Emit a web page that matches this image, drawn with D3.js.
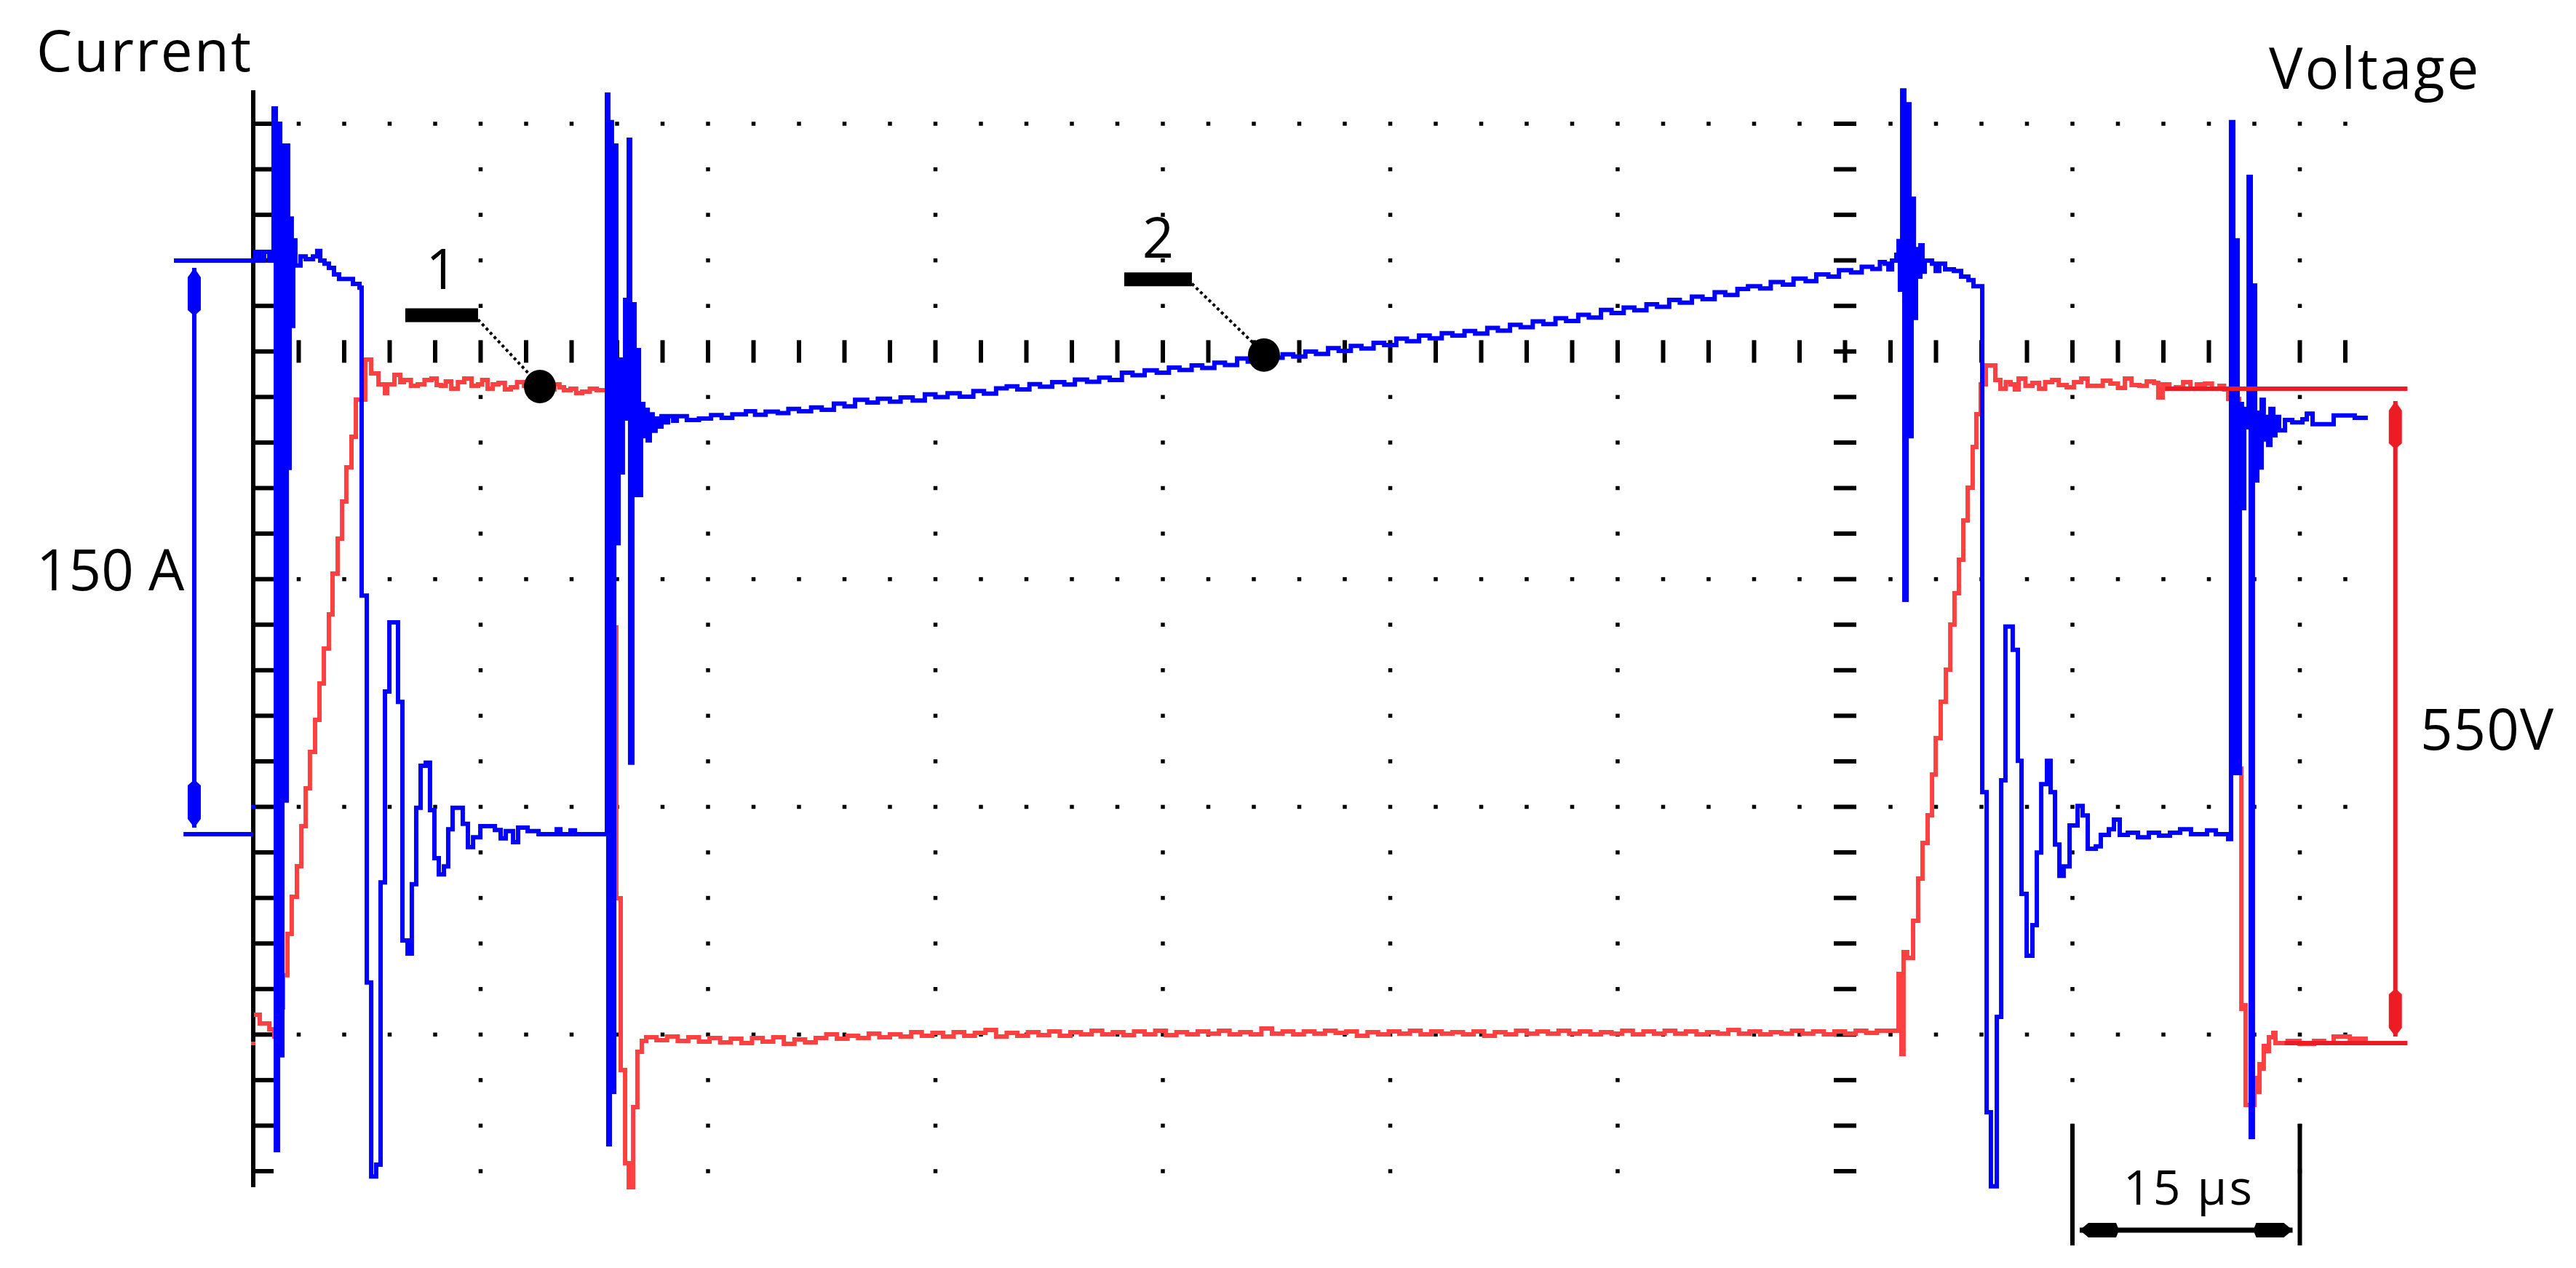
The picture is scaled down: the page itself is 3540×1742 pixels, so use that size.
<!DOCTYPE html>
<html><head><meta charset="utf-8">
<script src="https://cdn.jsdelivr.net/npm/d3@7"></script>
<style>html,body{margin:0;padding:0;background:#fff;} svg{display:block}</style>
</head><body><svg id="c" width="3540" height="1742"></svg>
<script>
// ---------- DATA (time in µs, current in A, voltage in V) ----------
const currentPoints = [
[0,150.0],[0.14,152.3],[0.43,150.0],[0.72,152.3],[1.06,150.0],
[1.34,189.8],[1.49,-82.6],[1.63,185.8],[1.78,-57.8],[1.92,180.1],[2.06,8.8],[2.21,180.1],[2.30,95.8],[2.40,161.0],[2.54,132.9],[2.64,155.3],[2.78,148.7],
[3.12,151.1],[3.46,150.4],[3.94,151.1],[4.22,152.5],[4.42,150.0],[4.70,149.2],[4.99,148.1],[5.33,146.4],[5.66,145.2],[6.58,143.9],[7.01,142.9],
[7.15,62.4],[7.49,-38.8],[7.78,-89.5],[8.11,-86.4],[8.40,-12.6],[8.69,37.3],[8.98,55.4],[9.55,34.6],[9.84,-27.8],[10.18,-31.2],[10.46,-13.1],[10.75,6.9],
[11.04,17.9],[11.38,18.7],[11.66,6.3],[11.95,-6.3],[12.24,-10.5],[12.58,-8.4],[12.86,1.3],[13.15,6.9],[13.82,2.7],[14.16,-3.4],[14.50,-0.8],[14.98,2.1],
[15.94,1.1],[16.32,-1.1],[16.66,0.8],[17.14,-2.1],[17.47,1.7],[18.10,0.8],[18.82,0],[20.02,1.3],[20.26,0],[20.93,1.0],[21.22,0],
[23.33,193.4],[23.42,-81.1],[23.52,186.2],[23.66,-67.4],[23.81,180.1],[23.95,76.1],[24.10,124.1],[24.24,94.6],[24.38,123.0],[24.53,139.7],[24.62,108.7],
[24.77,181.6],[24.86,18.7],[25.01,138.6],[25.15,88.7],[25.30,126.6],[25.44,88.7],[25.58,112.5],[25.73,104.1],[25.87,111.0],[26.02,103.0],[26.16,109.8],
[26.35,105.5],[26.54,108.7],[26.74,106.6],[26.93,109.3],[27.12,107.7],[27.36,109.3],[27.70,108.1],[27.94,109.3],
[28.6,108.3],[29.4,108.7],[30.2,109.6],[30.9,108.9],[31.6,109.8],[32.5,110.6],[33.1,109.7],[33.8,110.5],[34.6,110.1],[35.3,111.2],[36.0,110.6],[36.8,111.6],
[37.5,111.0],[38.3,112.6],[39.0,111.9],[39.7,113.6],[40.5,112.9],[41.2,113.9],[42.0,113.1],[42.7,114.2],[43.5,113.4],[44.3,115.0],[45.0,114.3],[45.8,115.3],
[46.6,114.4],[47.5,115.9],[48.2,115.2],[49.0,116.6],[49.7,117.1],[50.4,116.3],[51.2,117.7],[51.9,117.0],[52.7,118.2],[53.5,117.6],[54.2,118.9],[55.0,118.3],
[55.8,119.4],[56.5,118.8],[57.3,120.7],[58.0,120.0],[58.8,121.3],[59.6,120.7],[60.4,122.0],[61.1,121.4],[61.9,122.6],[62.6,121.9],[63.4,123.3],[64.1,122.7],
[64.9,124.4],[65.6,123.6],[66.4,125.1],[67.1,124.6],[67.9,125.5],[68.6,124.9],[69.4,126.2],[70.1,125.6],[70.9,127.1],[71.6,126.4],[72.4,127.7],[73.1,127.0],
[73.9,128.5],[74.6,127.9],[75.4,129.6],[76.1,128.9],[76.9,130.4],[77.6,129.7],[78.4,131.0],[79.1,130.4],[79.9,131.6],[80.6,130.9],[81.4,132.4],[82.1,131.7],
[82.9,133.2],[83.6,132.6],[84.4,134.1],[85.1,133.4],[85.9,134.9],[86.6,134.2],[87.4,135.8],[88.1,135.1],[88.9,137.1],[89.6,136.3],[90.4,137.7],[91.1,137.0],
[91.9,138.6],[92.6,137.9],[93.4,139.7],[94.1,139.0],[94.9,140.6],[95.6,139.9],[96.4,141.7],[97.1,141.0],[97.9,142.6],[98.6,143.3],[99.4,142.7],[100.1,144.4],
[100.9,143.7],[101.6,145.3],[102.4,144.6],[103.1,146.4],[103.9,145.8],[104.6,147.5],[105.4,146.9],[106.1,148.4],[106.8,147.8],[107.3,149.6],
[107.62,149.2],[107.86,147.7],[108.10,150.0],[108.38,151.5],
[108.53,155.1],[108.62,142.4],[108.77,194.5],[108.91,61.3],[109.06,190.9],[109.25,104.1],[109.39,166.2],[109.54,135.0],[109.68,153.0],[109.82,145.8],
[109.97,154.0],[110.11,147.1],[110.26,150.0],[110.74,149.2],[110.98,147.3],[111.22,149.2],[111.60,147.7],[112.18,147.3],[112.66,145.8],[113.14,144.9],[113.47,143.3],
[114.05,11.0],[114.34,-72.7],[114.62,-92.1],[115.01,-47.8],[115.30,14.1],[115.58,54.3],[116.06,48.2],[116.40,19.2],[116.64,-15.6],[116.98,-31.8],[117.36,-23.8],
[117.65,-4.8],[117.94,13.1],[118.32,19.2],[118.56,11.0],[118.85,-2.7],[119.14,-10.9],[119.42,-8.4],[119.81,2.3],[120.34,7.4],[120.67,4.9],[121.01,-3.8],
[121.54,-3.2],[121.87,-0.2],[122.40,1.3],[122.74,3.8],[123.12,-0.2],[123.65,0.4],[124.32,-0.8],[125.04,0.4],[125.71,-0.4],[126.43,0.4],[127.10,1.3],
[127.82,0],[128.88,1.0],[129.46,0],[130.27,-1.3],
[130.46,186.2],[130.61,16.0],[130.75,155.3],[130.90,16.0],[131.04,112.5],[131.18,85.3],[131.33,111.2],[131.47,106.4],[131.62,171.9],[131.76,-79.2],
[131.90,143.5],[132.05,92.5],[132.19,110.2],[132.34,95.9],[132.48,113.6],[132.62,103.2],[132.77,109.1],[132.91,101.8],[133.06,111.2],[133.25,104.3],
[133.39,109.1],[133.63,105.6],[134.02,108.3],[134.50,107.7],[135.17,108.5],[135.46,110.0],[135.84,107.2],[137.23,109.5],[138.62,108.9],[139.34,108.9]
];
const voltagePoints = [
[0.19,23.9],[0.43,16.5],[1.06,11.6],[1.39,5.5],[1.68,30.0],[1.97,57.0],[2.26,91.8],[2.54,123.0],[2.88,148.7],[3.17,182.3],[3.46,214.1],[3.74,244.7],
[4.08,271.6],[4.37,302.2],[4.66,331.6],[4.99,360.3],[5.23,394.6],[5.57,424.0],[5.86,455.2],[6.14,483.9],[6.48,509.6],[6.77,540.8],[7.39,574.5],
[7.78,562.9],[8.26,553.7],[8.69,546.3],[8.83,553.7],[9.31,561.6],[9.7,555.5],[9.94,557.3],[10.4,552.5],[10.85,553.7],[11.3,557.3],[11.76,558.6],
[12.1,553.1],[12.38,552.5],[12.7,556.1],[13.06,550.0],[13.5,555.5],[13.92,558.6],[14.4,552.5],[14.83,553.7],[15.1,557.3],[15.46,550.0],[15.8,553.7],
[16.18,554.9],[16.6,549.4],[16.99,551.2],[17.4,555.5],[17.86,552.5],[18.3,548.8],[18.91,551.8],[19.4,549.4],[19.87,553.7],[20.2,551.2],[20.50,548.8],
[20.93,550.0],[21.3,546.4],[21.70,547.6],[22.2,550.0],[22.66,548.8],
[23.81,349.3],[23.95,121.7],[24.24,-22.6],[24.53,-100.9],[24.77,-121.1],[25.06,-53.8],[25.34,-7.3],[25.63,1.8],[25.92,4.9],
[26.6,2.4],[27.3,5.5],[28.0,1.8],[28.7,4.9],[29.4,1.2],[30.1,4.3],[30.8,0.6],[31.5,3.7],[32.2,0],[32.9,4.3],[33.6,1.2],[34.3,4.9],[35.0,-0.6],[35.7,3.1],
[36.4,0.6],[37.1,4.3],[37.8,7.3],[38.5,3.7],[39.2,6.1],[39.9,4.3],[40.6,8.0],[41.3,4.9],[42.0,7.3],[42.7,5.5],[43.4,9.2],[44.1,6.1],[44.8,8.6],[45.5,5.5],
[46.2,9.2],[46.9,6.1],[47.6,8.6],[48.3,11.0],[49.0,5.5],[49.7,8.6],[50.4,6.1],[51.1,9.2],[51.8,6.7],[52.5,9.8],[53.2,6.1],[53.9,9.2],[54.6,7.3],[55.3,10.4],
[56.0,7.3],[56.7,9.2],[57.4,6.7],[58.1,9.8],[58.8,7.3],[59.5,10.4],[60.2,6.7],[60.9,9.2],[61.6,7.3],[62.3,9.8],[63.0,7.9],[63.7,10.4],[64.4,7.3],[65.1,9.2],
[65.8,7.3],[66.5,12.2],[67.2,8.0],[67.9,9.8],[68.6,7.3],[69.3,9.8],[70.0,8.0],[70.7,10.4],[71.4,8.6],[72.1,9.8],[72.8,6.1],[73.5,9.2],[74.2,7.3],[74.9,9.8],
[75.6,7.9],[76.3,10.4],[77.0,7.3],[77.7,9.8],[78.4,8.0],[79.1,9.2],[79.8,7.3],[80.5,9.8],[81.2,6.1],[81.9,9.2],[82.6,7.3],[83.3,10.4],[84.0,7.9],[84.7,9.8],
[85.4,8.0],[86.1,10.4],[86.8,8.0],[87.5,9.8],[88.2,7.3],[88.9,9.2],[89.6,7.9],[90.3,10.4],[91.0,7.3],[91.7,9.8],[92.4,8.0],[93.1,10.4],[93.8,8.0],[94.5,9.8],
[95.2,7.3],[95.9,9.2],[96.6,8.0],[97.3,11.0],[98.0,8.0],[98.7,9.8],[99.4,7.3],[100.1,9.2],[100.8,7.9],[101.5,10.4],[102.2,8.0],[102.9,9.8],[103.6,7.3],
[104.3,9.8],[105.0,8.0],[105.7,10.4],[106.4,8.6],[107.1,10.4],[107.62,10.4],
[108.53,58.1],[108.72,-9.2],[108.86,76.5],[109.10,71.6],[109.49,102.8],[109.82,138.3],[110.11,168.2],[110.45,191.5],[110.74,225.8],[110.98,256.3],
[111.31,286.9],[111.65,313.9],[111.94,351.8],[112.22,378.1],[112.51,406.2],[112.80,439.3],[113.09,466.8],[113.42,501.1],[113.66,528.6],[113.95,553.7],
[114.29,569.6],[114.91,557.3],[115.25,550.0],[115.6,555.5],[115.92,553.7],[116.2,549.4],[116.45,558.6],[116.9,552.5],[117.36,554.9],[117.8,550.0],
[118.2,555.5],[118.66,557.3],[119.1,553.1],[119.62,551.2],[120.1,555.5],[120.58,558.6],[121.0,552.5],[121.54,552.5],[122.0,556.7],[122.50,554.3],
[123.0,550.6],[123.46,558.6],[123.9,553.1],[124.42,552.5],[124.9,556.1],[125.38,554.9],[125.66,542.7],[125.95,553.7],[126.4,550.0],[126.82,551.2],
[127.3,555.5],[127.78,550.0],[128.2,553.7],[128.74,554.3],[129.2,550.0],[129.70,552.5],[130.0,549.4],[130.27,541.4],
[131.0,230.6],[131.14,28.8],[131.28,31.8],[131.42,-52.0],[132.0,-29.4],[132.19,-41.0],[132.34,-17.7],[132.48,-21.4],[132.62,-2.4],
[132.77,-6.7],[132.96,4.9],[133.25,8.6],[133.39,0],[134.2,1.8],[134.98,-0.6],[135.94,1.8],[136.6,0],[137.23,5.5],[138.3,3.7],[139.34,3.1]
];
const axisTitles = ["Current", "Voltage"];
const scaleLabels = ["150 A", "550V", "15 µs"];
const currentSpan = [0, 150];      // A, marker on the left
const voltageSpan = [0, 550];      // V, marker on the right
const timeSpan = [120, 135];       // µs, 15 µs marker
const annotations = [
  {label: "1", t: 18.91, v: 551.8, series: "voltage"},
  {label: "2", t: 66.67, v: 125.3, series: "current"}
];
const minorTimes = d3.range(3, 139, 3);          // µs, minor divisions
const majorTimes = [15, 30, 45, 60, 75, 90, 120, 135];
const axisTime = 105;
const divRows = d3.range(0, 24);
const dottedRows = [0, 10, 15, 20];
const axisRow = 5;

// ---------- SCALES ----------
const svg = d3.select('#c');
svg.append('rect').attr('width', 3540).attr('height', 1742).attr('fill', '#fff');
const x = d3.scaleLinear().domain([0, 15]).range([348, 660.5]);
const yI = d3.scaleLinear().domain([0, 150]).range([1146, 358]);
const yV = d3.scaleLinear().domain([0, 550]).range([1433, 534]);
const gy = d3.scaleLinear().domain([0, 23]).range([170, 1609]);
const BLUE = '#0000ff', RED = '#ff4040', MRED = '#ed1c24';

// ---------- GRID ----------
const g = svg.append('g').attr('fill', '#000');
const D = 5.5;
dottedRows.forEach(r => minorTimes.forEach(t => {
  if (t === axisTime) return;
  g.append('rect').attr('x', x(t) - D/2).attr('y', gy(r) - D/2).attr('width', D).attr('height', D);
}));
majorTimes.forEach(t => divRows.forEach(r => {
  if (dottedRows.includes(r) || r === axisRow) return;
  g.append('rect').attr('x', x(t) - D/2).attr('y', gy(r) - D/2).attr('width', D).attr('height', D);
}));
minorTimes.forEach(t => {
  g.append('rect').attr('x', x(t) - 3).attr('y', gy(axisRow) - 15.5).attr('width', 6).attr('height', 31);
});
divRows.forEach(r => {
  g.append('rect').attr('x', x(axisTime) - 15.5).attr('y', gy(r) - 3).attr('width', 31).attr('height', 6);
});
g.append('rect').attr('x', x(0) - 3).attr('y', 124).attr('width', 6).attr('height', 1507);
divRows.forEach(r => {
  g.append('rect').attr('x', x(0)).attr('y', gy(r) - 3).attr('width', 28).attr('height', 6);
});
svg.append('rect').attr('x', x(0) - 3).attr('y', 1106).attr('width', 6).attr('height', 5).attr('fill', BLUE);
svg.append('rect').attr('x', x(0) - 3).attr('y', 1431).attr('width', 6).attr('height', 5).attr('fill', RED);

// ---------- TRACES ----------
const lineV = d3.line().x(d => x(d[0])).y(d => yV(d[1])).curve(d3.curveStepAfter);
const lineI = d3.line().x(d => x(d[0])).y(d => yI(d[1])).curve(d3.curveStepAfter);
svg.append('path').attr('d', lineV(voltagePoints)).attr('fill', 'none').attr('stroke', RED)
  .attr('stroke-width', 6).attr('stroke-linejoin', 'miter').attr('stroke-linecap', 'square');
svg.append('path').attr('d', lineI(currentPoints)).attr('fill', 'none').attr('stroke', BLUE)
  .attr('stroke-width', 6).attr('stroke-linejoin', 'miter').attr('stroke-linecap', 'square');

// ---------- MARKERS ----------
function vArrow(cx, yTop, yBot, color) {
  const m = svg.append('g');
  m.append('line').attr('x1', cx).attr('x2', cx).attr('y1', yTop).attr('y2', yBot)
    .attr('stroke', color).attr('stroke-width', 6);
  m.append('path').attr('fill', color).attr('d',
    `M${cx},${yTop} L${cx-9},${yTop+13} L${cx-9},${yTop+58} L${cx},${yTop+66} L${cx+9},${yTop+58} L${cx+9},${yTop+13} Z`);
  m.append('path').attr('fill', color).attr('d',
    `M${cx},${yBot} L${cx-9},${yBot-12} L${cx-9},${yBot-58} L${cx},${yBot-66} L${cx+9},${yBot-58} L${cx+9},${yBot-12} Z`);
}
svg.append('line').attr('x1', x(-5.23)).attr('x2', x(0)).attr('y1', yI(currentSpan[1])).attr('y2', yI(currentSpan[1]))
  .attr('stroke', BLUE).attr('stroke-width', 6);
svg.append('line').attr('x1', x(-4.6)).attr('x2', x(0)).attr('y1', yI(currentSpan[0])).attr('y2', yI(currentSpan[0]))
  .attr('stroke', BLUE).attr('stroke-width', 6);
vArrow(x(-3.89), yI(currentSpan[1]) + 10, yI(currentSpan[0]) - 9, BLUE);
svg.append('line').attr('x1', x(126.1)).attr('x2', x(142.1)).attr('y1', yV(voltageSpan[1])).attr('y2', yV(voltageSpan[1]))
  .attr('stroke', MRED).attr('stroke-width', 6);
svg.append('line').attr('x1', x(134.0)).attr('x2', x(142.1)).attr('y1', yV(voltageSpan[0])).attr('y2', yV(voltageSpan[0]))
  .attr('stroke', MRED).attr('stroke-width', 6);
vArrow(x(141.3), yV(voltageSpan[1]) + 17, yV(voltageSpan[0]) - 9, MRED);
const tm = svg.append('g').attr('fill', '#000');
timeSpan.forEach(t => tm.append('rect').attr('x', x(t) - 3).attr('y', 1544).attr('width', 6).attr('height', 167));
const ax0 = x(timeSpan[0]) + 10, ax1 = x(timeSpan[1]) - 10, ay = 1690;
tm.append('rect').attr('x', ax0).attr('y', ay - 3.5).attr('width', ax1 - ax0).attr('height', 7);
tm.append('path').attr('d', `M${ax0},${ay} L${ax0+12},${ay-10} L${ax0+50},${ay-10} L${ax0+54},${ay} L${ax0+50},${ay+10} L${ax0+12},${ay+10} Z`);
tm.append('path').attr('d', `M${ax1},${ay} L${ax1-12},${ay-10} L${ax1-50},${ay-10} L${ax1-54},${ay} L${ax1-50},${ay+10} L${ax1-12},${ay+10} Z`);

// ---------- ANNOTATIONS ----------
annotations.forEach((a, i) => {
  const cx = x(a.t), cy = a.series === 'voltage' ? yV(a.v) : yI(a.v);
  const barR = i === 0 ? cx - 85 : cx - 99;
  const barW = i === 0 ? 100 : 93;
  const barY = i === 0 ? cy - 98 : cy - 104;
  svg.append('line').attr('x1', barR).attr('y1', barY + 6).attr('x2', cx - 8).attr('y2', cy - 10)
    .attr('stroke', '#000').attr('stroke-width', 4).attr('stroke-dasharray', '4 4');
  svg.append('rect').attr('x', barR - barW).attr('y', barY - 9.5).attr('width', barW).attr('height', 19).attr('fill', '#000');
  svg.append('ellipse').attr('cx', cx).attr('cy', cy).attr('rx', 22).attr('ry', 23).attr('fill', '#000');
  svg.append('text').attr('x', barR - barW / 2).attr('y', cy - 134).attr('text-anchor', 'middle')
    .attr('font-family', 'Open Sans').attr('font-size', 76).attr('fill', '#000').text(a.label);
});

// ---------- TEXT ----------
const txt = (s, xx, yy, size, ls) => svg.append('text').attr('x', xx).attr('y', yy)
  .attr('font-family', 'Open Sans').attr('font-size', size).attr('letter-spacing', ls || 0)
  .attr('fill', '#000').text(s);
txt(axisTitles[0], 50, 98, 78, 2.5);
txt(axisTitles[1], 3118, 122, 78, 3);
txt(scaleLabels[0], 50, 811, 78, 0);
txt(scaleLabels[1], 3326, 1030, 78, 1);
txt(scaleLabels[2], 2918, 1655, 66, 3);
</script></body></html>
